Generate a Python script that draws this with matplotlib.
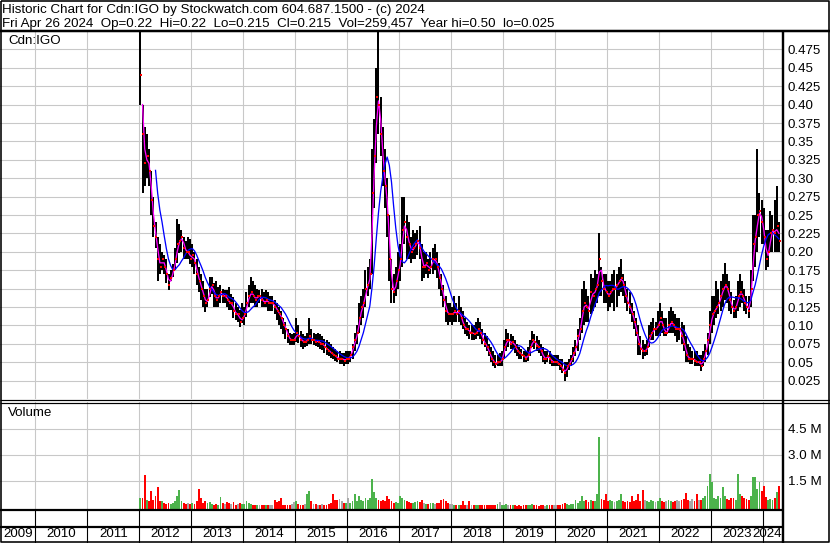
import numpy as np
import pandas as pd
import matplotlib
matplotlib.use("Agg")
import matplotlib.pyplot as plt

plt.rcParams['font.family'] = ['Liberation Sans', 'DejaVu Sans']

# half-month bars, Jan 2012 .. Apr 2024 (one row per year)
high = [
    0.50, 0.40, 0.37, 0.36, 0.34, 0.31, 0.275, 0.24, 0.22, 0.21, 0.20, 0.195, 0.19, 0.17, 0.175, 0.184, 0.205, 0.245, 0.238, 0.23, 0.22, 0.215, 0.22, 0.218,
    0.21, 0.20, 0.19, 0.18, 0.17, 0.16, 0.15, 0.15, 0.166, 0.166, 0.157, 0.16, 0.152, 0.155, 0.15, 0.148, 0.148, 0.152, 0.143, 0.139, 0.13, 0.125, 0.121, 0.13,
    0.125, 0.145, 0.155, 0.166, 0.16, 0.155, 0.15, 0.148, 0.15, 0.145, 0.148, 0.145, 0.14, 0.14, 0.135, 0.13, 0.125, 0.12, 0.11, 0.105, 0.095, 0.09, 0.088, 0.09,
    0.11, 0.10, 0.092, 0.088, 0.085, 0.09, 0.11, 0.095, 0.09, 0.088, 0.09, 0.088, 0.085, 0.082, 0.08, 0.078, 0.075, 0.07, 0.068, 0.065, 0.065, 0.062, 0.062, 0.065,
    0.065, 0.065, 0.075, 0.09, 0.10, 0.13, 0.14, 0.15, 0.175, 0.18, 0.19, 0.34, 0.38, 0.45, 0.50, 0.41, 0.37, 0.34, 0.30, 0.25, 0.19, 0.17, 0.18, 0.20,
    0.21, 0.275, 0.275, 0.25, 0.24, 0.22, 0.23, 0.225, 0.23, 0.235, 0.21, 0.20, 0.20, 0.19, 0.20, 0.205, 0.21, 0.20, 0.185, 0.17, 0.155, 0.14, 0.13, 0.13,
    0.125, 0.14, 0.13, 0.14, 0.125, 0.12, 0.11, 0.105, 0.10, 0.10, 0.10, 0.105, 0.11, 0.105, 0.095, 0.09, 0.085, 0.075, 0.07, 0.065, 0.06, 0.06, 0.062, 0.065,
    0.08, 0.095, 0.09, 0.088, 0.085, 0.08, 0.075, 0.07, 0.068, 0.065, 0.065, 0.07, 0.08, 0.092, 0.088, 0.085, 0.08, 0.075, 0.07, 0.065, 0.065, 0.065, 0.06, 0.06,
    0.06, 0.06, 0.055, 0.055, 0.05, 0.05, 0.055, 0.06, 0.07, 0.08, 0.095, 0.11, 0.15, 0.16, 0.15, 0.14, 0.17, 0.165, 0.175, 0.17, 0.225, 0.18, 0.17, 0.17,
    0.16, 0.16, 0.17, 0.175, 0.17, 0.18, 0.19, 0.17, 0.16, 0.15, 0.145, 0.13, 0.12, 0.11, 0.10, 0.085, 0.08, 0.075, 0.08, 0.10, 0.105, 0.11, 0.105, 0.12,
    0.13, 0.12, 0.11, 0.11, 0.12, 0.125, 0.12, 0.115, 0.11, 0.11, 0.105, 0.10, 0.085, 0.075, 0.07, 0.065, 0.065, 0.065, 0.06, 0.06, 0.065, 0.075, 0.09, 0.12,
    0.14, 0.14, 0.16, 0.15, 0.16, 0.17, 0.185, 0.17, 0.16, 0.145, 0.135, 0.14, 0.16, 0.17, 0.16, 0.15, 0.14, 0.14, 0.175, 0.25, 0.25, 0.34, 0.28, 0.27,
    0.26, 0.23, 0.23, 0.255, 0.25, 0.27, 0.29, 0.24,
]
low = [
    0.40, 0.28, 0.29, 0.30, 0.29, 0.25, 0.22, 0.205, 0.16, 0.17, 0.175, 0.17, 0.157, 0.148, 0.16, 0.166, 0.175, 0.185, 0.198, 0.20, 0.19, 0.19, 0.19, 0.184,
    0.18, 0.17, 0.155, 0.145, 0.135, 0.125, 0.118, 0.125, 0.139, 0.143, 0.125, 0.125, 0.125, 0.13, 0.13, 0.13, 0.125, 0.121, 0.121, 0.11, 0.108, 0.105, 0.098, 0.103,
    0.10, 0.112, 0.125, 0.13, 0.13, 0.125, 0.125, 0.13, 0.125, 0.125, 0.125, 0.12, 0.12, 0.12, 0.115, 0.107, 0.10, 0.095, 0.088, 0.082, 0.076, 0.074, 0.074, 0.074,
    0.078, 0.076, 0.07, 0.068, 0.07, 0.072, 0.075, 0.075, 0.074, 0.072, 0.07, 0.068, 0.066, 0.063, 0.06, 0.058, 0.056, 0.054, 0.052, 0.05, 0.048, 0.048, 0.045, 0.048,
    0.048, 0.05, 0.055, 0.065, 0.075, 0.09, 0.10, 0.11, 0.125, 0.14, 0.15, 0.17, 0.26, 0.32, 0.36, 0.33, 0.29, 0.26, 0.22, 0.16, 0.13, 0.13, 0.14, 0.15,
    0.16, 0.18, 0.21, 0.19, 0.19, 0.185, 0.19, 0.19, 0.195, 0.19, 0.16, 0.165, 0.17, 0.165, 0.17, 0.17, 0.175, 0.165, 0.15, 0.14, 0.125, 0.105, 0.10, 0.105,
    0.10, 0.105, 0.105, 0.105, 0.10, 0.095, 0.088, 0.085, 0.082, 0.08, 0.08, 0.082, 0.085, 0.082, 0.075, 0.07, 0.065, 0.058, 0.05, 0.045, 0.042, 0.045, 0.045, 0.045,
    0.055, 0.065, 0.07, 0.068, 0.068, 0.062, 0.058, 0.055, 0.055, 0.05, 0.05, 0.052, 0.058, 0.07, 0.068, 0.065, 0.062, 0.058, 0.05, 0.048, 0.05, 0.048, 0.045, 0.045,
    0.045, 0.045, 0.04, 0.035, 0.025, 0.03, 0.04, 0.045, 0.05, 0.058, 0.065, 0.08, 0.09, 0.10, 0.105, 0.105, 0.115, 0.12, 0.125, 0.13, 0.14, 0.14, 0.13, 0.13,
    0.12, 0.125, 0.13, 0.12, 0.125, 0.14, 0.145, 0.14, 0.13, 0.12, 0.115, 0.105, 0.095, 0.085, 0.06, 0.06, 0.055, 0.058, 0.06, 0.07, 0.08, 0.08, 0.085, 0.085,
    0.085, 0.09, 0.085, 0.085, 0.09, 0.09, 0.09, 0.085, 0.078, 0.08, 0.075, 0.065, 0.05, 0.05, 0.048, 0.048, 0.045, 0.045, 0.045, 0.038, 0.045, 0.05, 0.06, 0.075,
    0.09, 0.10, 0.11, 0.115, 0.12, 0.125, 0.135, 0.13, 0.12, 0.115, 0.11, 0.11, 0.12, 0.125, 0.13, 0.12, 0.115, 0.11, 0.125, 0.16, 0.18, 0.20, 0.22, 0.21,
    0.21, 0.175, 0.18, 0.20, 0.20, 0.20, 0.20, 0.20,
]
close = [
    0.44, 0.36, 0.32, 0.33, 0.31, 0.27, 0.235, 0.22, 0.19, 0.18, 0.19, 0.18, 0.17, 0.155, 0.165, 0.175, 0.19, 0.21, 0.215, 0.22, 0.205, 0.20, 0.20, 0.19,
    0.195, 0.185, 0.17, 0.16, 0.15, 0.14, 0.13, 0.135, 0.15, 0.155, 0.14, 0.135, 0.14, 0.145, 0.14, 0.14, 0.135, 0.13, 0.13, 0.12, 0.115, 0.115, 0.105, 0.11,
    0.115, 0.13, 0.14, 0.145, 0.14, 0.135, 0.14, 0.14, 0.135, 0.13, 0.135, 0.13, 0.13, 0.13, 0.125, 0.12, 0.115, 0.11, 0.10, 0.095, 0.085, 0.08, 0.08, 0.08,
    0.09, 0.085, 0.08, 0.078, 0.078, 0.08, 0.085, 0.08, 0.08, 0.078, 0.078, 0.075, 0.075, 0.07, 0.068, 0.065, 0.062, 0.06, 0.058, 0.055, 0.055, 0.055, 0.052, 0.055,
    0.055, 0.06, 0.07, 0.08, 0.09, 0.11, 0.125, 0.13, 0.15, 0.155, 0.17, 0.28, 0.33, 0.41, 0.40, 0.36, 0.31, 0.29, 0.25, 0.19, 0.15, 0.145, 0.16, 0.175,
    0.19, 0.23, 0.24, 0.22, 0.21, 0.20, 0.205, 0.21, 0.215, 0.205, 0.18, 0.18, 0.185, 0.175, 0.18, 0.19, 0.19, 0.18, 0.165, 0.15, 0.135, 0.12, 0.115, 0.115,
    0.115, 0.12, 0.115, 0.12, 0.11, 0.10, 0.095, 0.095, 0.09, 0.09, 0.088, 0.09, 0.095, 0.09, 0.08, 0.075, 0.07, 0.062, 0.055, 0.05, 0.048, 0.05, 0.05, 0.055,
    0.07, 0.08, 0.08, 0.075, 0.078, 0.07, 0.065, 0.062, 0.06, 0.058, 0.055, 0.06, 0.07, 0.08, 0.078, 0.072, 0.07, 0.065, 0.055, 0.055, 0.058, 0.055, 0.05, 0.05,
    0.05, 0.048, 0.045, 0.04, 0.035, 0.045, 0.048, 0.055, 0.062, 0.07, 0.085, 0.095, 0.12, 0.13, 0.125, 0.12, 0.145, 0.14, 0.15, 0.155, 0.19, 0.16, 0.15, 0.145,
    0.14, 0.145, 0.15, 0.15, 0.155, 0.16, 0.165, 0.155, 0.14, 0.13, 0.125, 0.115, 0.105, 0.09, 0.075, 0.068, 0.065, 0.065, 0.07, 0.085, 0.09, 0.095, 0.095, 0.10,
    0.11, 0.10, 0.09, 0.09, 0.10, 0.105, 0.10, 0.095, 0.095, 0.095, 0.085, 0.075, 0.06, 0.055, 0.055, 0.055, 0.052, 0.05, 0.05, 0.045, 0.055, 0.065, 0.08, 0.10,
    0.115, 0.12, 0.125, 0.13, 0.14, 0.15, 0.155, 0.15, 0.135, 0.125, 0.12, 0.125, 0.14, 0.145, 0.14, 0.13, 0.125, 0.12, 0.15, 0.21, 0.22, 0.25, 0.255, 0.24,
    0.22, 0.19, 0.20, 0.225, 0.23, 0.225, 0.235, 0.215,
]
volume = [  # millions of shares
    0.5, 0.5, 1.8, 0.4, 0.3, 0.9, 0.4, 0.6, 1.1, 0.3, 0.3, 0.2, 0.15, 0.2, 0.15, 0.2, 0.3, 0.6, 0.95, 0.3, 0.2, 0.15, 0.2, 0.15,
    0.2, 0.15, 0.3, 1.0, 0.5, 0.2, 0.3, 0.2, 0.25, 0.15, 0.1, 0.15, 0.1, 0.55, 0.2, 0.15, 0.25, 0.2, 0.15, 0.25, 0.1, 0.15, 0.2, 0.15,
    0.15, 0.3, 0.2, 0.15, 0.1, 0.1, 0.1, 0.1, 0.1, 0.08, 0.1, 0.1, 0.1, 0.1, 0.35, 0.25, 0.3, 0.5, 0.1, 0.1, 0.1, 0.1, 0.15, 0.25,
    0.3, 0.15, 0.1, 0.1, 0.15, 0.75, 0.9, 0.3, 0.15, 0.15, 0.1, 0.1, 0.15, 0.1, 0.1, 0.15, 0.2, 0.75, 0.4, 0.35, 0.45, 0.3, 0.2, 0.2,
    0.5, 0.2, 0.3, 0.75, 0.3, 0.6, 0.4, 0.3, 0.5, 0.4, 0.5, 1.6, 0.85, 0.5, 0.4, 0.3, 0.35, 0.3, 0.6, 0.45, 0.3, 0.2, 0.25, 0.2,
    0.6, 0.5, 0.35, 0.3, 0.25, 0.2, 0.2, 0.25, 0.3, 0.25, 0.4, 0.2, 0.15, 0.15, 0.2, 0.2, 0.15, 0.2, 0.2, 0.35, 0.45, 0.3, 0.2, 0.15,
    0.15, 0.1, 0.1, 0.1, 0.08, 0.3, 0.1, 0.08, 0.3, 0.1, 0.08, 0.1, 0.1, 0.08, 0.08, 0.1, 0.1, 0.08, 0.1, 0.1, 0.1, 0.15, 0.25, 0.08,
    0.1, 0.12, 0.08, 0.06, 0.06, 0.08, 0.05, 0.06, 0.05, 0.06, 0.08, 0.06, 0.1, 0.12, 0.08, 0.06, 0.05, 0.08, 0.06, 0.05, 0.1, 0.08, 0.06, 0.1,
    0.08, 0.1, 0.1, 0.12, 0.2, 0.15, 0.1, 0.12, 0.15, 0.35, 0.2, 0.3, 0.6, 0.3, 0.35, 0.25, 0.35, 0.3, 0.3, 0.7, 4.0, 0.45, 0.35, 0.75,
    0.3, 0.35, 0.3, 0.25, 0.3, 0.35, 0.75, 0.3, 0.25, 0.3, 0.25, 0.6, 0.3, 0.35, 0.7, 0.3, 0.95, 0.35, 0.3, 0.25, 0.35, 0.3, 0.25, 0.3,
    0.5, 0.3, 0.25, 0.3, 0.35, 0.3, 0.25, 0.3, 0.4, 0.3, 0.35, 0.45, 0.8, 0.35, 0.3, 0.45, 0.3, 0.7, 0.35, 0.4, 0.5, 0.6, 1.2, 1.9,
    1.4, 0.5, 0.45, 0.6, 0.5, 1.1, 0.6, 0.45, 0.4, 0.5, 0.5, 0.4, 1.85, 0.75, 0.6, 0.5, 0.45, 0.4, 0.6, 1.7, 1.7, 1.0, 1.4, 0.9,
    1.2, 0.55, 0.4, 0.45, 0.4, 0.5, 0.85, 1.2,
]

price_ticks = [0.025, 0.05, 0.075, 0.10, 0.125, 0.15, 0.175, 0.20, 0.225, 0.25,
               0.275, 0.30, 0.325, 0.35, 0.375, 0.40, 0.425, 0.45, 0.475]
price_labels = ["0.025", "0.05", "0.075", "0.10", "0.125", "0.15", "0.175", "0.20", "0.225", "0.25",
                "0.275", "0.30", "0.325", "0.35", "0.375", "0.40", "0.425", "0.45", "0.475"]
vol_ticks = [1.5, 3.0, 4.5]
vol_labels = ["1.5 M", "3.0 M", "4.5 M"]
years = list(range(2009, 2025))

header1 = "Historic Chart for Cdn:IGO by Stockwatch.com 604.687.1500 - (c) 2024"
header2 = "Fri Apr 26 2024  Op=0.22  Hi=0.22  Lo=0.215  Cl=0.215  Vol=259,457  Year hi=0.50  lo=0.025"

W, H = 830, 543
PX = 0.72  # points per pixel at dpi 100
fig = plt.figure(figsize=(W / 100, H / 100), dpi=100)


def box(x0, y0, x1, y1):
    # pixel box, origin top-left -> figure fraction
    return [x0 / W, 1 - y1 / H, (x1 - x0) / W, (y1 - y0) / H]


t = 2012 + (np.arange(len(close)) + 0.5) / 24
XMIN, XMAX = 2009.319, 2024.371
GRID = '#c8c8c8'
FS = 9.6

# price panel
ax = fig.add_axes(box(0, 31, 782, 399))
ax.set_xlim(XMIN, XMAX)
ax.set_ylim(0, 0.50)
ax.set_xticks(years[1:])
ax.set_yticks(price_ticks)
ax.set_yticklabels(price_labels)
ax.yaxis.tick_right()
ax.tick_params(axis='x', length=0, labelbottom=False)
ax.tick_params(axis='y', length=0, pad=4, labelsize=FS)
ax.grid(True, color=GRID, lw=1.1 * PX)
ax.set_axisbelow(True)
for s in ax.spines.values():
    s.set_visible(False)

ax.vlines(t, low, high, color='black', lw=2.0 * PX, antialiased=False, zorder=2)
ma_fast = pd.Series(close).rolling(2).mean()
ma_slow = pd.Series(close).rolling(8).mean()
ax.plot(t, ma_fast, color='#ff00ff', lw=1.3 * PX, zorder=3)
ax.plot(t, ma_slow, color='#0000ff', lw=1.3 * PX, zorder=4)
ax.scatter(t + 0.015, close, marker='s', s=4, color='red', lw=0, zorder=5)

# volume panel
ax2 = fig.add_axes(box(0, 402, 782, 510))
ax2.set_xlim(XMIN, XMAX)
ax2.set_ylim(-0.2, 6.03)
ax2.set_xticks(years[1:])
ax2.set_yticks(vol_ticks)
ax2.set_yticklabels(vol_labels)
ax2.yaxis.tick_right()
ax2.tick_params(axis='x', length=0, labelbottom=False)
ax2.tick_params(axis='y', length=0, pad=4, labelsize=FS)
ax2.grid(True, color=GRID, lw=1.1 * PX)
ax2.set_axisbelow(True)
for s in ax2.spines.values():
    s.set_visible(False)

chg = np.diff(np.r_[close[0] - 1, close])
vcol = np.where(chg > 0, '#4cb34c', np.where(chg < 0, '#ff0000', '#a8a8a8'))
ax2.bar(t, np.array(volume) + 0.2, bottom=-0.2, width=0.85 / 24, color=vcol, lw=0)

# year strip
ax3 = fig.add_axes(box(0, 510, 782, 543))
ax3.set_xlim(XMIN, XMAX)
ax3.set_ylim(0, 1)
ax3.axis('off')
ax3.vlines(years[1:], 0, 1, color='black', lw=1.1 * PX)
for y in years[:-1]:
    mid = (max(y, XMIN) + y + 1) / 2
    ax3.text(mid, 0.27, str(y), ha='center', va='center', fontsize=FS)
ax3.text(XMAX, 0.27, str(years[-1]), ha='right', va='center', fontsize=FS)

# frame lines and fixed texts
ov = fig.add_axes([0, 0, 1, 1], zorder=10)
ov.set_xlim(0, W)
ov.set_ylim(H, 0)
ov.axis('off')
ov.patch.set_visible(False)
k = dict(color='black', solid_capstyle='butt')
ov.plot([0.8, 829.2, 829.2, 0.8, 0.8], [0.8, 0.8, 542.2, 542.2, 0.8], lw=1.6 * PX, **k)
ov.plot([0, W], [30.5, 30.5], lw=2.5 * PX, **k)
ov.plot([783, 783], [30, H], lw=2.4 * PX, **k)
ov.plot([0, W], [399.5, 399.5], lw=1.2 * PX, **k)
ov.plot([0, W], [402.5, 402.5], lw=1.2 * PX, **k)
ov.plot([0, 782], [510, 510], lw=2.2 * PX, **k)
ov.plot([0, 782], [527, 527], lw=2.2 * PX, **k)
ov.text(2, 13, header1, fontsize=FS, va='baseline')
ov.text(2, 26.5, header2, fontsize=FS, va='baseline')
ov.text(8, 41.5, "Cdn:IGO", fontsize=FS, va='center')
ov.text(8, 413, "Volume", fontsize=FS, va='center')

fig.savefig("out.png", dpi=100)
